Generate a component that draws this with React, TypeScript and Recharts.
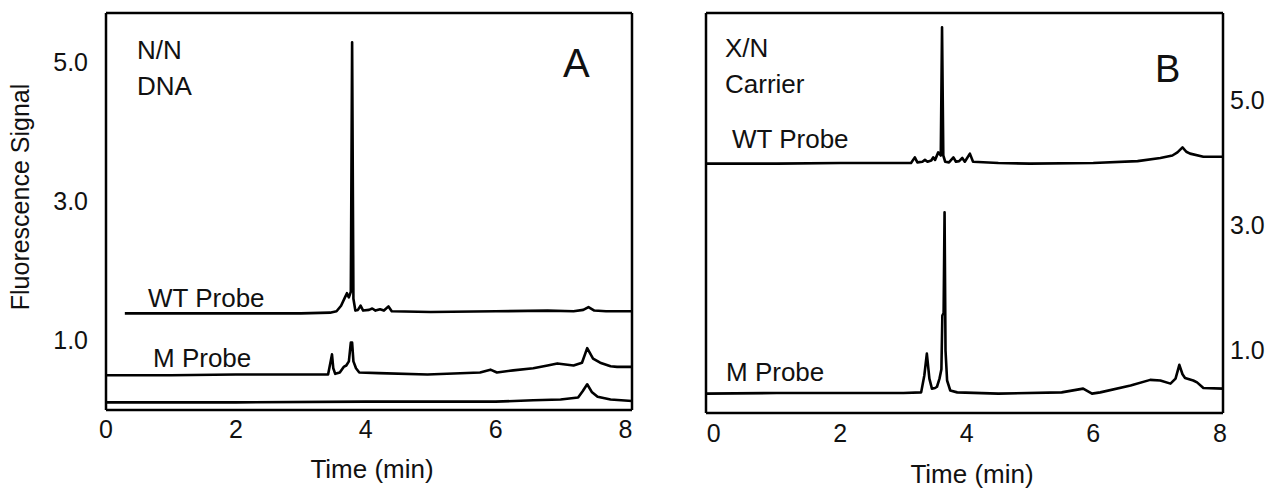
import React from "react";
import { LineChart, Line, XAxis, YAxis, ReferenceLine } from "recharts";

// Panel A (N/N DNA) - time in min, fluorescence signal
const aWtTime = [0.29, 1.0, 2.0, 3.0, 3.45, 3.55, 3.62, 3.68, 3.71, 3.74, 3.77, 3.79, 3.81, 3.84, 3.88, 3.92, 3.96, 4.05, 4.1, 4.15, 4.22, 4.28, 4.35, 4.4, 5.0, 6.0, 6.8, 7.2, 7.35, 7.43, 7.52, 7.7, 8.1];
const aWtSignal = [1.39, 1.39, 1.39, 1.39, 1.4, 1.42, 1.5, 1.62, 1.68, 1.62, 1.7, 5.29, 1.6, 1.43, 1.44, 1.5, 1.43, 1.44, 1.46, 1.43, 1.45, 1.43, 1.49, 1.42, 1.41, 1.42, 1.43, 1.42, 1.44, 1.48, 1.43, 1.42, 1.42];

const aMTime = [0, 1.0, 2.0, 3.0, 3.42, 3.46, 3.48, 3.5, 3.53, 3.6, 3.66, 3.7, 3.74, 3.77, 3.79, 3.81, 3.85, 3.9, 4.2, 4.95, 5.76, 5.92, 6.02, 6.27, 6.58, 6.8, 6.95, 7.2, 7.33, 7.41, 7.5, 7.61, 7.77, 7.87, 8.1];
const aMSignal = [0.5, 0.5, 0.51, 0.51, 0.51, 0.7, 0.8, 0.6, 0.52, 0.54, 0.62, 0.64, 0.7, 0.97, 0.97, 0.7, 0.6, 0.54, 0.53, 0.51, 0.54, 0.58, 0.54, 0.57, 0.6, 0.64, 0.67, 0.64, 0.68, 0.89, 0.74, 0.68, 0.63, 0.62, 0.62];

const aBlankTime = [0, 2.0, 4.0, 6.0, 6.58, 7.0, 7.27, 7.34, 7.41, 7.48, 7.57, 7.77, 8.1];
const aBlankSignal = [0.11, 0.11, 0.12, 0.12, 0.14, 0.15, 0.18, 0.27, 0.37, 0.26, 0.19, 0.15, 0.13];

// Panel B (X/N carrier)
const bWtTime = [-0.12, 1.0, 2.0, 3.0, 3.12, 3.18, 3.22, 3.3, 3.34, 3.38, 3.44, 3.47, 3.5, 3.55, 3.59, 3.61, 3.63, 3.66, 3.72, 3.79, 3.83, 3.88, 3.93, 3.97, 4.05, 4.1, 4.5, 5.0, 6.0, 6.7, 7.06, 7.25, 7.33, 7.41, 7.47, 7.53, 7.74, 8.05];
const bWtSignal = [3.99, 3.99, 4.0, 4.0, 4.0, 4.09, 4.01, 4.02, 4.05, 4.02, 4.04, 4.09, 4.05, 4.17, 4.12, 6.17, 4.12, 4.02, 4.01, 4.09, 4.02, 4.03, 4.08, 4.02, 4.15, 4.02, 4.0, 3.99, 4.0, 4.03, 4.08, 4.12, 4.17, 4.25, 4.18, 4.15, 4.1, 4.1];

const bMTime = [-0.12, 1.0, 2.0, 3.0, 3.28, 3.33, 3.37, 3.41, 3.45, 3.5, 3.53, 3.57, 3.6, 3.615, 3.635, 3.65, 3.665, 3.69, 3.74, 3.85, 4.5, 5.5, 5.84, 5.98, 6.11, 6.59, 6.9, 7.06, 7.22, 7.3, 7.36, 7.41, 7.45, 7.58, 7.64, 7.74, 8.05];
const bMSignal = [0.31, 0.32, 0.32, 0.32, 0.33, 0.6, 0.95, 0.55, 0.39, 0.4, 0.42, 0.55, 0.7, 1.56, 1.6, 3.21, 1.0, 0.52, 0.36, 0.33, 0.31, 0.33, 0.39, 0.31, 0.33, 0.44, 0.53, 0.52, 0.47, 0.55, 0.77, 0.62, 0.56, 0.52, 0.49, 0.4, 0.39];

const timeTicks = [0, 2, 4, 6, 8];
const signalTicks = [1.0, 3.0, 5.0];

const aTimeDomain = [0, 8.1];
const aSignalDomain = [0, 5.71];
const bTimeDomain = [-0.12, 8.05];
const bSignalDomain = [0, 6.4];

const toPoints = (t: number[], v: number[]) => t.map((x, i) => ({ t: x, v: v[i] }));

const font = '"Liberation Sans", Arial, Helvetica, sans-serif';
const tickStyle = { fontSize: 25, fill: "#111", fontFamily: font };
const frame = { stroke: "#000", strokeWidth: 2.5 };

const trace = (key: string, data: { t: number; v: number }[]) => (
  <Line
    key={key}
    data={data}
    dataKey="v"
    xAxisId="x"
    yAxisId="y"
    type="linear"
    stroke="#000"
    strokeWidth={2.6}
    strokeLinejoin="round"
    dot={false}
    isAnimationActive={false}
  />
);

// top/side borders of the box; bottom and tick side come from the axes
const border = (key: string, p: { x?: number; y?: number }) => (
  <ReferenceLine key={key} xAxisId="x" yAxisId="y" {...p} stroke="#000" strokeWidth={2.5} ifOverflow="visible" />
);

const PanelA = () => (
  <LineChart width={640} height={489} margin={{ top: 13, right: 8, bottom: 0, left: 0 }}>
    <XAxis
      xAxisId="x"
      type="number"
      dataKey="t"
      domain={aTimeDomain}
      ticks={timeTicks}
      allowDataOverflow
      height={79}
      tickLine={false}
      tickMargin={4}
      tick={tickStyle}
      axisLine={frame}
    />
    <YAxis
      yAxisId="y"
      type="number"
      domain={aSignalDomain}
      ticks={signalTicks}
      tickFormatter={(v: number) => v.toFixed(1)}
      allowDataOverflow
      width={106}
      tickLine={false}
      tickMargin={12}
      tick={tickStyle}
      axisLine={frame}
    />
    {border("top", { y: aSignalDomain[1] })}
    {border("right", { x: aTimeDomain[1] })}
    {trace("aWt", toPoints(aWtTime, aWtSignal))}
    {trace("aM", toPoints(aMTime, aMSignal))}
    {trace("aBlank", toPoints(aBlankTime, aBlankSignal))}
  </LineChart>
);

const PanelB = () => (
  <LineChart width={630} height={489} margin={{ top: 13, right: 0, bottom: 0, left: 66 }}>
    <XAxis
      xAxisId="x"
      type="number"
      dataKey="t"
      domain={bTimeDomain}
      ticks={timeTicks}
      allowDataOverflow
      height={76}
      tickLine={false}
      tickMargin={5}
      tick={tickStyle}
      axisLine={frame}
    />
    <YAxis
      yAxisId="y"
      orientation="right"
      type="number"
      domain={bSignalDomain}
      ticks={signalTicks}
      tickFormatter={(v: number) => v.toFixed(1)}
      allowDataOverflow
      width={47}
      tickLine={false}
      tickMargin={1}
      tick={tickStyle}
      axisLine={frame}
    />
    {border("top", { y: bSignalDomain[1] })}
    {border("left", { x: bTimeDomain[0] })}
    {trace("bWt", toPoints(bWtTime, bWtSignal))}
    {trace("bM", toPoints(bMTime, bMSignal))}
  </LineChart>
);

const label = { fontFamily: font, fill: "#111" };

export default function App() {
  return (
    <div style={{ position: "absolute", left: 0, top: 0, width: 1270, height: 489, background: "#fff", fontFamily: font }}>
      <div style={{ position: "absolute", left: 0, top: 0 }}>
        <PanelA />
      </div>
      <div style={{ position: "absolute", left: 640, top: 0 }}>
        <PanelB />
      </div>
      <svg width={1270} height={489} style={{ position: "absolute", left: 0, top: 0, pointerEvents: "none" }}>
        <text transform="translate(29,197) rotate(-90)" textAnchor="middle" fontSize={25} {...label}>
          Fluorescence Signal
        </text>
        <text x={372} y={478} textAnchor="middle" fontSize={26} {...label}>Time (min)</text>
        <text x={972} y={483} textAnchor="middle" fontSize={26} {...label}>Time (min)</text>

        <text x={137} y={59} fontSize={26} {...label}>N/N</text>
        <text x={137} y={95} fontSize={26} {...label}>DNA</text>
        <text x={563} y={77} fontSize={40} {...label}>A</text>
        <text x={148} y={307} fontSize={26} {...label}>WT Probe</text>
        <text x={153} y={367} fontSize={26} {...label}>M Probe</text>

        <text x={725} y={57} fontSize={26} {...label}>X/N</text>
        <text x={725} y={93} fontSize={26} {...label}>Carrier</text>
        <text x={1155} y={82} fontSize={38} {...label}>B</text>
        <text x={732} y={148} fontSize={26} {...label}>WT Probe</text>
        <text x={726} y={381} fontSize={26} {...label}>M Probe</text>
      </svg>
    </div>
  );
}
